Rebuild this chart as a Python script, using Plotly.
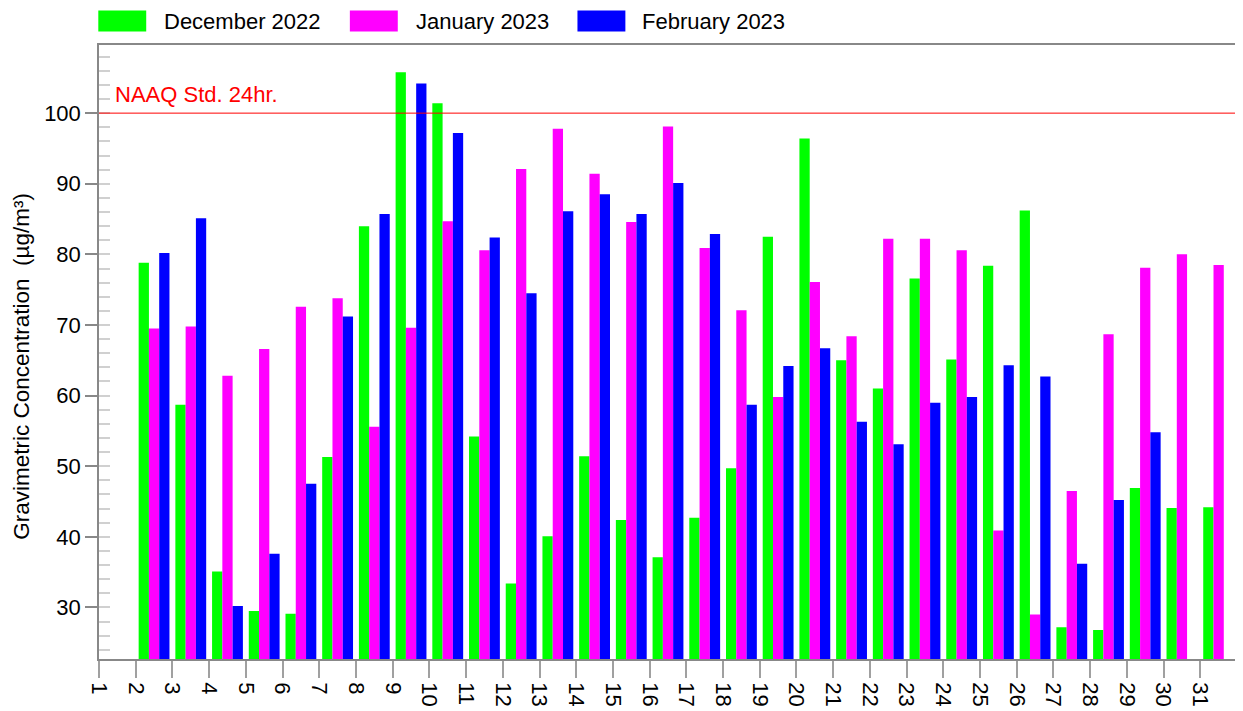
import plotly.graph_objects as go

# tick labels along the bottom axis
tick_days = list(range(1, 32))
# each bar group sits just after the tick with this number
days = list(range(2, 32))

dec_2022 = [78.8, 58.7, 35.1, 29.5, 29.1, 51.3, 84.0, 105.8, 101.4, 54.2,
            33.4, 40.1, 51.4, 42.4, 37.1, 42.7, 49.7, 82.5, 96.4, 65.0,
            61.0, 76.6, 65.1, 78.4, 86.2, 27.2, 26.8, 46.9, 44.1, 44.2]
jan_2023 = [69.5, 69.8, 62.8, 66.6, 72.6, 73.8, 55.6, 69.6, 84.7, 80.6,
            92.1, 97.8, 91.4, 84.6, 98.1, 80.9, 72.1, 59.8, 76.1, 68.4,
            82.2, 82.2, 80.6, 40.9, 29.0, 46.5, 68.7, 78.1, 80.0, 78.5]
feb_2023 = [80.2, 85.1, 30.2, 37.6, 47.5, 71.2, 85.7, 104.2, 97.2, 82.4,
            74.5, 86.1, 88.5, 85.7, 90.1, 82.9, 58.7, 64.2, 66.7, 56.3,
            53.1, 59.0, 59.8, 64.3, 62.7, 36.2, 45.2, 54.8, None, None]

series_names = ["December 2022", "January 2023", "February 2023"]
series_colors = ["#00ff00", "#ff00ff", "#0000ff"]
naaq_std = 100

FONT = "Liberation Sans, Arial, sans-serif"
Y_RANGE = [22.7, 109.65]

# plot box in page pixels (the page body has an 8px margin)
PX_L, PX_R, PX_T, PX_B = 98.7, 1238.7, 44.7, 663.3
PW, PH = PX_R - PX_L, PX_B - PX_T


def px(x):
    return (x - PX_L) / PW


def py(y):
    return (PX_B - y) / PH


fig = go.Figure()
for name, color, vals in zip(series_names, series_colors, [dec_2022, jan_2023, feb_2023]):
    fig.add_trace(go.Bar(
        x=[d + 0.5 for d in days], y=vals, name=name,
        marker=dict(color=color, line=dict(width=0)),
        showlegend=False,
    ))

# 24hr standard line
fig.add_shape(type="line", xref="paper", x0=0, x1=1, yref="y", y0=naaq_std, y1=naaq_std,
              line=dict(color="#ff0000", width=1), layer="above")
fig.add_annotation(text="NAAQ Std. 24hr.", xref="paper", x=px(113), xanchor="left",
                   yref="y", y=naaq_std, yanchor="bottom", yshift=4, showarrow=False,
                   font=dict(family=FONT, size=22, color="#ff0000"))

# legend drawn by hand: big swatches above the plot
sw_x = [98, 350, 578]
txt_x = [162, 414, 641]
for name, color, sx, tx in zip(series_names, series_colors, sw_x, txt_x):
    fig.add_shape(type="rect", xref="paper", yref="paper",
                  x0=px(sx), x1=px(sx + 48), y0=py(31), y1=py(10),
                  fillcolor=color, line=dict(width=0))
    fig.add_annotation(text=name, xref="paper", yref="paper",
                       x=px(tx), xanchor="left", y=py(21), yanchor="middle",
                       showarrow=False, font=dict(family=FONT, size=22, color="#000000"))

fig.add_annotation(text="Gravimetric Concentration  (µg/m³)", textangle=-90,
                   xref="paper", x=px(21), xanchor="center",
                   yref="paper", y=py(368.5), yanchor="middle", borderpad=0,
                   showarrow=False, font=dict(family=FONT, size=22.5, color="#000000"))

fig.update_layout(
    width=1235, height=703,
    margin=dict(l=PX_L - 8, r=1235 - (PX_R - 8), t=PX_T - 8, b=703 - (PX_B - 8)),
    paper_bgcolor="white", plot_bgcolor="white",
    barmode="group", bargap=0.16, bargroupgap=0,
    font=dict(family=FONT, size=22, color="#000000"),
    xaxis=dict(
        range=[1, 32], tickmode="array", tickvals=tick_days,
        ticktext=[str(d) for d in tick_days], tickangle=90,
        ticks="outside", ticklen=17, tickcolor="#a0a0a0", tickwidth=1.5,
        showline=True, linecolor="#888888", linewidth=1.5, mirror=True,
        showgrid=False, zeroline=False, tickfont=dict(size=22),
    ),
    yaxis=dict(
        range=Y_RANGE, tick0=0, dtick=10,
        ticks="outside", ticklen=12, tickcolor="#888888", tickwidth=1.5,
        minor=dict(ticks="inside", dtick=2, ticklen=11, tickcolor="#d0d0d0", tickwidth=1.5),
        showline=True, linecolor="#888888", linewidth=1.5, mirror=True,
        showgrid=False, zeroline=False, tickfont=dict(size=22),
    ),
    yaxis2=dict(
        range=Y_RANGE, overlaying="y", side="left", tick0=0, dtick=10,
        ticks="inside", ticklen=11, tickcolor="#888888", tickwidth=1.5,
        showticklabels=False, showgrid=False, zeroline=False, showline=False,
    ),
)

fig.write_html("out.html")
